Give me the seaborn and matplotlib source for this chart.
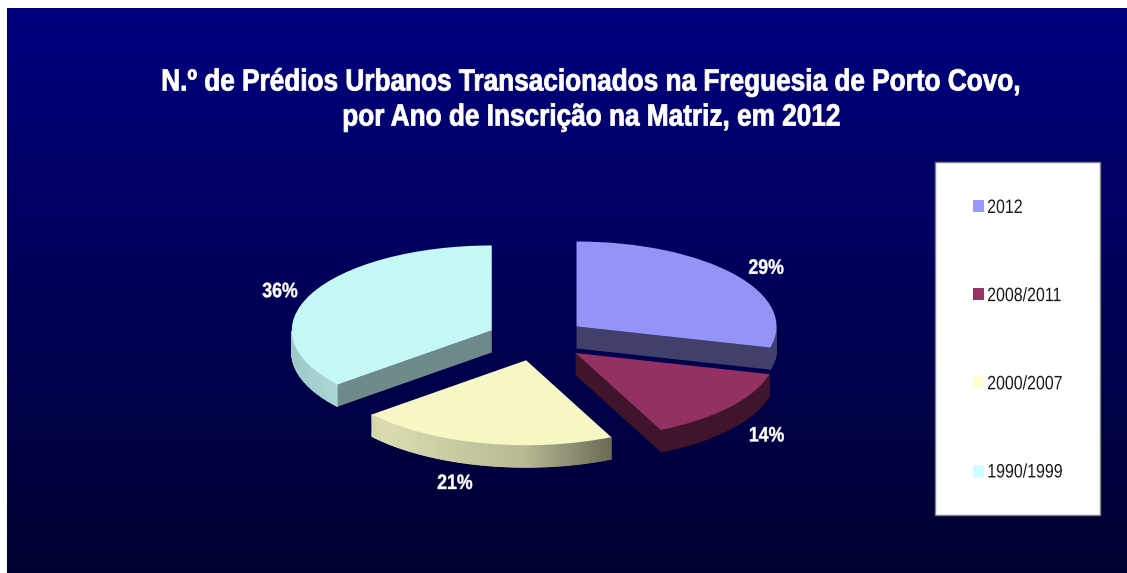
import numpy as np
import seaborn as sns
import matplotlib.pyplot as plt
from matplotlib.colors import LinearSegmentedColormap, to_rgb
from matplotlib.patches import Rectangle
from matplotlib.patheffects import AbstractPathEffect
from matplotlib.transforms import Affine2D

# data
anos = ['2012', '2008/2011', '2000/2007', '1990/1999']
percent = [29, 14, 21, 36]
cores = ['#9999ff', '#993366', '#ffffcc', '#ccffff']
titulo = 'N.º de Prédios Urbanos Transacionados na Freguesia de Porto Covo,\npor Ano de Inscrição na Matriz, em 2012'

W, H = 1127, 573
RX, RY = 200, 85     # ellipse radii, px
CX, CY = 537, 339.5  # pie centre, px
DEPTH = 22 / RY      # height of the 3d wall in data units


class Narrow(AbstractPathEffect):
    # no narrow font installed, so squeeze the glyphs sideways when drawn
    def __init__(self, sx, left=False, peso=0):
        super().__init__()
        self.sx, self.left, self.peso = sx, left, peso

    def draw_path(self, renderer, gc, tpath, affine, rgbFace=None):
        box = tpath.get_extents(affine)
        x0 = box.x0 if self.left else (box.x0 + box.x1) / 2
        squeeze = Affine2D().translate(-x0, 0).scale(self.sx, 1).translate(x0, 0)
        gc0 = renderer.new_gc()
        gc0.copy_properties(gc)
        gc0.set_linewidth(self.peso)
        gc0.set_foreground(rgbFace)
        renderer.draw_path(gc0, tpath, affine + squeeze, rgbFace)
        gc0.restore()


sns.set_theme(style='white')
plt.rcParams['font.family'] = ['Liberation Sans', 'DejaVu Sans']

fig = plt.figure(figsize=(W / 100, H / 100), dpi=100, facecolor='white')

# background gradient
bg = fig.add_axes([7 / W, 0, (W - 7) / W, (H - 8) / H])
grad = np.linspace(0, 1, 256).reshape(-1, 1)
bg_rgb = np.array([0, 0, 128]) + grad[..., None] * (np.array([0, 0, 48]) - np.array([0, 0, 128]))
bg.imshow(bg_rgb / 255, aspect='auto')
bg.axis('off')

ax = fig.add_axes([0, 0, 1, 1])
ax.set_zorder(2)
faces = [tuple(0.97 * c for c in cor) for cor in sns.color_palette(cores)]
wedges, _ = ax.pie(percent, colors=faces, startangle=90, counterclock=False,
                   explode=[0.25] * len(percent), wedgeprops={'linewidth': 0, 'zorder': 5})
ax.set_aspect('auto')
ax.set_xlim((0 - CX) / RX, (W - CX) / RX)
ax.set_ylim((CY - H) / RY, CY / RY)


def sombra(t):
    # wall brightness by where the wall faces, 0 deg = right
    return np.interp(np.cos(t), [-1, -0.7, 0, 0.43, 1], [0.78, 0.86, 0.72, 0.42, 0.42])


for w, cor in zip(wedges, cores):
    rgb = np.array(to_rgb(cor))
    cx, cy = w.center
    a1, a2 = np.radians(w.theta1), np.radians(w.theta2)
    # outer wall, lower half of the ellipse only
    ts = np.linspace(a1, a2, 200)
    ts = ts[np.sin(ts) <= 0]
    xs = np.tile(cx + np.cos(ts), (2, 1))
    ys = np.vstack([cy + np.sin(ts) - DEPTH, cy + np.sin(ts)])
    cm = LinearSegmentedColormap.from_list('parede', ['black', cor])
    ax.pcolormesh(xs, ys, np.tile(sombra(ts), (2, 1)), shading='gouraud', cmap=cm, vmin=0, vmax=1, zorder=3)
    # cut faces turned to the viewer
    for a, vis, k in [(a1, np.cos(a1) > 1e-9, 0.42), (a2, np.cos(a2) < -1e-9, 0.54)]:
        if vis:
            px, py = cx + np.cos(a), cy + np.sin(a)
            ax.fill([cx, px, px, cx], [cy, py, py - DEPTH, cy - DEPTH], color=rgb * k, lw=0, zorder=4)

# percent labels
pos_label = [(1.20, 1.157), (1.24, 1.49), (1.63, 1.46), (1.17, 1.13)]
for w, v, (fx, fy) in zip(wedges, percent, pos_label):
    m = np.radians((w.theta1 + w.theta2) / 2)
    ax.text(w.center[0] + fx * np.cos(m), w.center[1] + fy * np.sin(m) - 0.025, f'{v}%', color='white',
            fontsize=15, fontweight='bold', ha='center', va='center', zorder=6, path_effects=[Narrow(0.85, peso=0.3)])

fig.text(591 / W, 1 - 100 / H, titulo, color='white', fontsize=22, fontweight='bold',
         ha='center', va='center', linespacing=1.22, path_effects=[Narrow(0.857, peso=0.6)])

# legend box is drawn apart because the squeezed labels would widen it
fig.add_artist(Rectangle((935 / W, 1 - 515 / H), 165 / W, 353 / H, transform=fig.transFigure,
                         facecolor='white', edgecolor='#808080', lw=1, zorder=1))
fs_px = 14 / 0.72
leg = ax.legend(wedges, anos, loc='upper left', bbox_to_anchor=(935 / W, 1 - 162 / H), bbox_transform=fig.transFigure,
                fontsize=14, frameon=False, borderaxespad=0, borderpad=38 / fs_px, labelspacing=(90.6 - fs_px) / fs_px,
                handlelength=11 / fs_px, handleheight=11 / fs_px, handletextpad=3 / fs_px, labelcolor='#1a1a1a')
leg.set_zorder(7)
for patch, cor, txt in zip(leg.get_patches(), cores, leg.get_texts()):
    patch.set_facecolor(cor)
    txt.set_path_effects([Narrow(0.82, left=True)])

fig.savefig('out.png', dpi=100)
